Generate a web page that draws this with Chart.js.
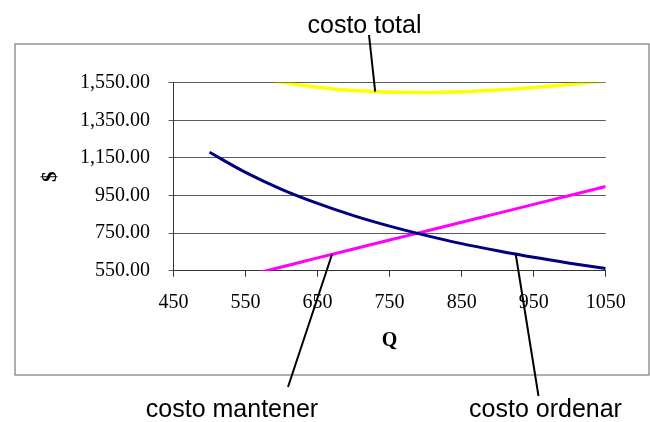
<!DOCTYPE html>
<html>
<head>
<meta charset="utf-8">
<script src="https://cdn.jsdelivr.net/npm/chart.js@4/dist/chart.umd.min.js"></script>
<style>
  html, body { margin: 0; padding: 0; background: #fff; }
  #wrap { width: 650px; height: 422px; position: relative; }
</style>
</head>
<body>
<div id="wrap"><canvas id="c" width="650" height="422"></canvas></div>
<script>
// Order quantity Q and the three cost curves ($)
const qValues = [500, 550, 600, 650, 700, 750, 800, 850, 900, 950, 1000, 1050];
const costoOrdenar = [1180, 1073, 983, 908, 843, 787, 738, 694, 656, 621, 590, 562];
const costoMantener = [475, 523, 570, 618, 665, 713, 760, 808, 855, 903, 950, 998];
const costoTotal = [1655, 1596, 1553, 1526, 1508, 1500, 1498, 1502, 1511, 1524, 1540, 1560];

const xTicks = [450, 550, 650, 750, 850, 950, 1050];
const yTicks = [550, 750, 950, 1150, 1350, 1550];

// Callout labels: text, anchor point on its curve (Q, $), label position
const callouts = [
  { text: 'costo total',    q: 730, v: 1502, lx: 364.5, ly: 33,  ex: 369, ey: 35 },
  { text: 'costo mantener', q: 670, v: 636,  lx: 232,   ly: 417, ex: 288, ey: 387 },
  { text: 'costo ordenar',  q: 925, v: 640,  lx: 545.5, ly: 417, ex: 538.5, ey: 396 }
];

const toPoints = (vals) => qValues.map((q, i) => ({ x: q, y: vals[i] }));

const serif = "'Liberation Serif', 'Times New Roman', serif";
const sans = "'Liberation Sans', Arial, sans-serif";

const frameAndCallouts = {
  id: 'frameAndCallouts',
  beforeDraw(chart) {
    const ctx = chart.ctx;
    ctx.save();
    ctx.fillStyle = '#fff';
    ctx.fillRect(0, 0, chart.width, chart.height);
    ctx.strokeStyle = '#7a7a7a';
    ctx.lineWidth = 1.2;
    ctx.strokeRect(15, 44, 634, 331);
    ctx.restore();
  },
  afterDraw(chart) {
    const ctx = chart.ctx;
    const xs = chart.scales.x, ys = chart.scales.y;
    ctx.save();
    ctx.strokeStyle = '#000';
    ctx.lineWidth = 2;
    ctx.fillStyle = '#000';
    ctx.font = '25px ' + sans;
    ctx.textAlign = 'center';
    ctx.textBaseline = 'alphabetic';
    callouts.forEach(c => {
      ctx.beginPath();
      ctx.moveTo(c.ex, c.ey);
      ctx.lineTo(xs.getPixelForValue(c.q), ys.getPixelForValue(c.v));
      ctx.stroke();
      ctx.fillText(c.text, c.lx, c.ly);
    });
    ctx.restore();
  }
};

new Chart(document.getElementById('c'), {
  type: 'scatter',
  data: {
    datasets: [
      { label: 'costo total', data: toPoints(costoTotal), borderColor: '#ffff00', borderWidth: 3.5 },
      { label: 'costo ordenar', data: toPoints(costoOrdenar), borderColor: '#000080', borderWidth: 3 },
      { label: 'costo mantener', data: toPoints(costoMantener), borderColor: '#ff00ff', borderWidth: 3 }
    ].map(d => Object.assign(d, {
      showLine: true, pointRadius: 0, pointHoverRadius: 0, fill: false,
      cubicInterpolationMode: 'monotone'
    }))
  },
  options: {
    responsive: false,
    animation: false,
    events: [],
    layout: { padding: { top: 82.7, right: 44.3, left: 0, bottom: 0 } },
    plugins: { legend: { display: false }, tooltip: { enabled: false } },
    scales: {
      x: {
        type: 'linear', min: 450, max: 1050,
        afterBuildTicks: (s) => { s.ticks = xTicks.map(v => ({ value: v })); },
        afterFit: (s) => { s.height = 151.3; },
        ticks: {
          color: '#000', font: { family: serif, size: 20 }, padding: 14, maxRotation: 0,
          callback: (v) => String(v)
        },
        grid: { drawOnChartArea: false, drawTicks: true, tickLength: 6, color: '#333', lineWidth: 1 },
        border: { display: true, color: '#333', width: 1 },
        title: { display: true, text: 'Q', color: '#000', font: { family: serif, size: 20, weight: 'bold' }, padding: { top: 0, bottom: 69 } }
      },
      y: {
        type: 'linear', min: 550, max: 1550,
        afterBuildTicks: (s) => { s.ticks = yTicks.map(v => ({ value: v })); },
        afterFit: (s) => { s.width = 173.5; },
        ticks: {
          color: '#000', font: { family: serif, size: 20 }, padding: 18.5,
          callback: (v) => Number(v).toLocaleString('en-US', { minimumFractionDigits: 2, maximumFractionDigits: 2 })
        },
        grid: { drawTicks: true, tickLength: 5, color: '#5a5a5a', lineWidth: 1 },
        border: { display: true, color: '#333', width: 1 },
        title: { display: true, text: '$', color: '#000', font: { family: serif, size: 21, weight: 'bold' }, padding: { top: 38, bottom: 0 } }
      }
    }
  },
  plugins: [frameAndCallouts]
});
</script>
</body>
</html>
